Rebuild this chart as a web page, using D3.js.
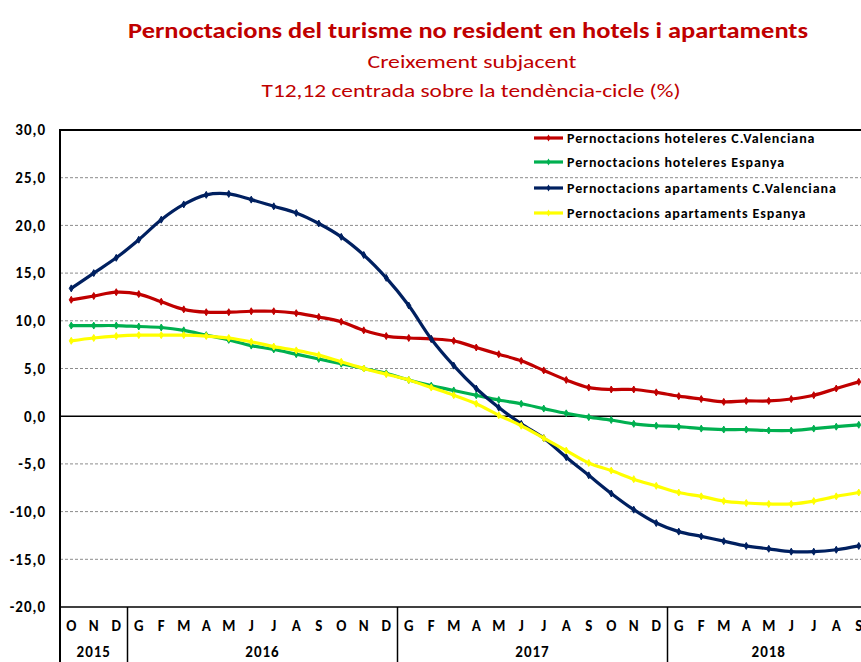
<!DOCTYPE html>
<html>
<head>
<meta charset="utf-8">
<script src="https://cdn.jsdelivr.net/npm/d3@7"></script>
<style>
  body { margin: 0; background: #fff; }
  svg { display: block; font-family: Carlito, "Liberation Sans", Arial, sans-serif; }
</style>
</head>
<body>
<div id="chart"></div>
<script>
// month labels (Oct 2015 - Sep 2018)
const months = ["O","N","D",
  "G","F","M","A","M","J","J","A","S","O","N","D",
  "G","F","M","A","M","J","J","A","S","O","N","D",
  "G","F","M","A","M","J","J","A","S"];

const years = [
  {label: "2015", from: 0, to: 2},
  {label: "2016", from: 3, to: 14},
  {label: "2017", from: 15, to: 26},
  {label: "2018", from: 27, to: 35}
];

const yTicks = [30, 25, 20, 15, 10, 5, 0, -5, -10, -15, -20];

// series values
const hotelesCV = [12.2, 12.6, 13.0, 12.8, 12.0, 11.2, 10.9, 10.9, 11.0, 11.0, 10.8, 10.4, 9.9, 9.0, 8.4,
  8.2, 8.1, 7.9, 7.2, 6.5, 5.8, 4.8, 3.8, 3.0, 2.8, 2.8, 2.5,
  2.1, 1.8, 1.5, 1.6, 1.6, 1.8, 2.2, 2.9, 3.6];
const hotelesES = [9.5, 9.5, 9.5, 9.4, 9.3, 9.0, 8.5, 8.0, 7.4, 7.0, 6.5, 6.0, 5.5, 5.0, 4.5,
  3.8, 3.2, 2.7, 2.2, 1.7, 1.3, 0.8, 0.3, -0.1, -0.4, -0.8, -1.0,
  -1.1, -1.3, -1.4, -1.4, -1.5, -1.5, -1.3, -1.1, -0.9];
const apartCV = [13.4, 15.0, 16.6, 18.5, 20.6, 22.2, 23.2, 23.3, 22.7, 22.0, 21.3, 20.2, 18.8, 16.9, 14.5,
  11.6, 8.1, 5.3, 2.9, 0.9, -0.8, -2.3, -4.3, -6.2, -8.1, -9.8, -11.2,
  -12.1, -12.6, -13.1, -13.6, -13.9, -14.2, -14.2, -14.0, -13.6];
const apartES = [7.9, 8.2, 8.4, 8.5, 8.5, 8.5, 8.4, 8.2, 7.8, 7.3, 6.9, 6.4, 5.7, 5.0, 4.4,
  3.8, 3.0, 2.2, 1.3, 0.1, -1.0, -2.3, -3.6, -4.9, -5.7, -6.6, -7.3,
  -8.0, -8.4, -8.9, -9.1, -9.2, -9.2, -8.9, -8.4, -8.0];

const series = [
  {name: "Pernoctacions hoteleres C.Valenciana", color: "#C00000", values: hotelesCV},
  {name: "Pernoctacions hoteleres Espanya", color: "#00B050", values: hotelesES},
  {name: "Pernoctacions apartaments C.Valenciana", color: "#002060", values: apartCV},
  {name: "Pernoctacions apartaments Espanya", color: "#FFFF00", values: apartES}
];

const width = 861, height = 662;
const margin = {top: 130, right: -9, bottom: 55, left: 60};
const plotBottom = height - margin.bottom;
const font = "Carlito, 'Liberation Sans', Arial, sans-serif";

const svg = d3.create("svg")
  .attr("width", width)
  .attr("height", height);

// titles
svg.append("text")
  .attr("x", 468).attr("y", 38)
  .attr("text-anchor", "middle")
  .attr("fill", "#C00000")
  .attr("font-size", 23).attr("font-weight", "bold")
  .attr("textLength", 680).attr("lengthAdjust", "spacingAndGlyphs")
  .text("Pernoctacions del turisme no resident en hotels i apartaments");
svg.append("text")
  .attr("x", 472).attr("y", 68)
  .attr("text-anchor", "middle")
  .attr("fill", "#C00000")
  .attr("font-size", 19)
  .attr("textLength", 209).attr("lengthAdjust", "spacingAndGlyphs")
  .text("Creixement  subjacent");
svg.append("text")
  .attr("x", 471).attr("y", 97)
  .attr("text-anchor", "middle")
  .attr("fill", "#C00000")
  .attr("font-size", 19)
  .attr("textLength", 419).attr("lengthAdjust", "spacingAndGlyphs")
  .text("T12,12 centrada sobre la tendència-cicle  (%)");

// scales
const x = d3.scaleBand()
  .domain(d3.range(months.length))
  .range([margin.left, width - margin.right]);

const y = d3.scaleLinear()
  .domain([-20, 30])
  .range([plotBottom, margin.top]);

// gridlines
svg.append("g")
  .selectAll("line")
  .data(yTicks.filter(d => d !== 0 && d !== 30 && d !== -20))
  .join("line")
  .attr("x1", margin.left).attr("x2", width)
  .attr("y1", d => y(d)).attr("y2", d => y(d))
  .attr("stroke", "#8c8c8c")
  .attr("stroke-width", 1)
  .attr("stroke-dasharray", "3,2");

// zero line, top border and bottom line
svg.append("line")
  .attr("x1", margin.left).attr("x2", width)
  .attr("y1", y(0)).attr("y2", y(0))
  .attr("stroke", "#000").attr("stroke-width", 1.5);
svg.append("line")
  .attr("x1", margin.left).attr("x2", width)
  .attr("y1", y(30)).attr("y2", y(30))
  .attr("stroke", "#000").attr("stroke-width", 2);
svg.append("line")
  .attr("x1", margin.left).attr("x2", width)
  .attr("y1", y(-20)).attr("y2", y(-20))
  .attr("stroke", "#000").attr("stroke-width", 1.5);

// y axis
const yAxis = svg.append("g")
  .attr("transform", `translate(${margin.left},0)`)
  .call(d3.axisLeft(y)
    .tickValues(yTicks)
    .tickSize(0)
    .tickPadding(14)
    .tickFormat(d => d3.format(".1f")(d).replace(".", ",").replace("−", "-")));
yAxis.select(".domain").remove();
yAxis.selectAll("text")
  .attr("font-size", 15)
  .attr("font-weight", "bold")
  .attr("letter-spacing", 1)
  .attr("fill", "#000")
  .attr("font-family", font);

// left border down to the bottom of the category rows
svg.append("line")
  .attr("x1", margin.left).attr("x2", margin.left)
  .attr("y1", margin.top - 1).attr("y2", height)
  .attr("stroke", "#000").attr("stroke-width", 2);

// month labels
const xAxis = svg.append("g")
  .attr("transform", `translate(0,${plotBottom})`)
  .call(d3.axisBottom(x).tickSize(0).tickPadding(13).tickFormat(i => months[i]));
xAxis.select(".domain").remove();
xAxis.selectAll("text")
  .attr("font-size", 15)
  .attr("font-weight", "bold")
  .attr("fill", "#000")
  .attr("font-family", font);

// year separators and labels
svg.append("g")
  .selectAll("line")
  .data(years.slice(1))
  .join("line")
  .attr("x1", d => x(d.from)).attr("x2", d => x(d.from))
  .attr("y1", plotBottom).attr("y2", height)
  .attr("stroke", "#000").attr("stroke-width", 1.5);

svg.append("g")
  .selectAll("text")
  .data(years)
  .join("text")
  .attr("x", d => (x(d.from) + x(d.to) + x.bandwidth()) / 2)
  .attr("y", plotBottom + 50)
  .attr("text-anchor", "middle")
  .attr("font-size", 15)
  .attr("font-weight", "bold")
  .attr("letter-spacing", 1)
  .attr("fill", "#000")
  .text(d => d.label);

// lines
const line = d3.line()
  .x((d, i) => x(i) + x.bandwidth() / 2)
  .y(d => y(d))
  .curve(d3.curveCatmullRom.alpha(0.5));

const marker = d3.symbol().type(d3.symbolDiamond).size(14);

series.forEach(s => {
  const g = svg.append("g");
  g.append("path")
    .datum(s.values)
    .attr("fill", "none")
    .attr("stroke", s.color)
    .attr("stroke-width", 3.2)
    .attr("stroke-linejoin", "round")
    .attr("d", line);
  g.selectAll("path.pt")
    .data(s.values)
    .join("path")
    .attr("class", "pt")
    .attr("transform", (d, i) => `translate(${x(i) + x.bandwidth() / 2},${y(d)})`)
    .attr("fill", s.color)
    .attr("stroke", s.color)
    .attr("stroke-width", 1)
    .attr("d", marker);
});

// legend
const legend = svg.append("g")
  .selectAll("g")
  .data(series)
  .join("g")
  .attr("transform", (d, i) => `translate(534,${[138, 162, 188, 213][i]})`);
legend.append("line")
  .attr("x1", 0).attr("x2", 29)
  .attr("stroke", d => d.color)
  .attr("stroke-width", 3.2);
legend.append("path")
  .attr("transform", "translate(14.5,0)")
  .attr("fill", d => d.color)
  .attr("d", marker);
legend.append("text")
  .attr("x", 33).attr("dy", "0.35em")
  .attr("font-size", 14)
  .attr("font-weight", "bold")
  .attr("letter-spacing", 0.9)
  .attr("fill", "#000")
  .text(d => d.name);

document.getElementById("chart").appendChild(svg.node());
</script>
</body>
</html>
